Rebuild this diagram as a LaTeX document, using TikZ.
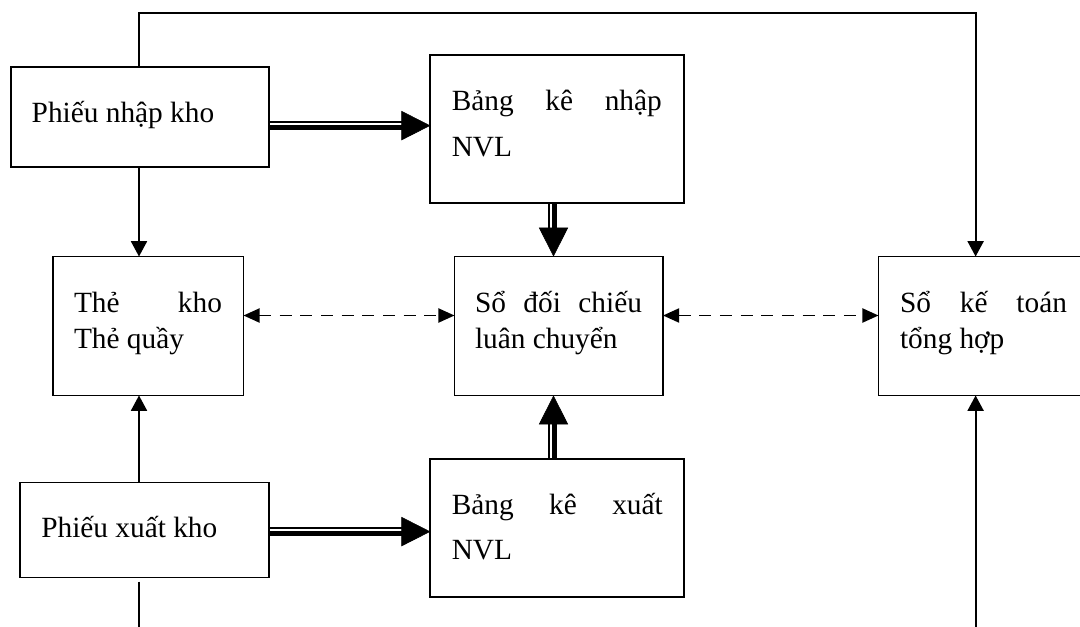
\documentclass[tikz,border=0pt]{standalone}
\usepackage{fontspec}
\setmainfont{Liberation Serif}
\usetikzlibrary{arrows.meta,backgrounds}
\begin{document}
\begin{tikzpicture}[x=0.75pt,y=-0.75pt,
  box/.style={draw, line width=1.4pt, inner sep=0pt, outer sep=0pt, fill=white},
  txt/.style={anchor=base west, inner sep=0pt, outer sep=0pt, font=\fontsize{22}{26}\selectfont},
  arr/.style={line width=1.35pt, -{Triangle[length=11.5pt,width=12pt]}},
  ln/.style={line width=1.35pt},
  dsh/.style={line width=1.4pt, dash pattern=on 9pt off 6.5pt, {Triangle[length=12pt,width=10.5pt]}-{Triangle[length=12pt,width=10.5pt]}},
  dblbody/.style={line width=6.9pt, shorten >=20pt},
  dblgap/.style={draw=white, line width=1.3pt, shorten >=20pt},
  dbltip/.style={line width=0.4pt, -{Triangle[length=21.75pt,width=22pt]}}
]
\useasboundingbox (0,0) rectangle (1080,627);
% boxes
\node[box, minimum width=193.2pt, minimum height=74.8pt] (A) at (139.8,116.9) {};
\node[box, minimum width=190.2pt, minimum height=111pt] (B) at (557.2,129) {};
\node[box, minimum width=143.1pt, minimum height=104.2pt] (C) at (148.1,326) {};
\node[box, minimum width=156.4pt, minimum height=104.2pt] (D) at (558.75,326) {};
\node[box, minimum width=156.4pt, minimum height=104.2pt] (E) at (982.75,326) {};
\node[box, minimum width=186.5pt, minimum height=71.25pt] (F) at (144.3,530) {};
\node[box, minimum width=190.2pt, minimum height=103.5pt] (G) at (557.2,528) {};
% texts
\node[txt] (At) at (31.7,122.9) {Phiếu nhập kho};
\node[txt] (Bt1) at (451.8,111) {\makebox[157.5pt][l]{Bảng\hfill kê\hfill nhập}};
\node[txt] (Bt2) at (451.8,156.7) {NVL};
\node[txt] (Ct1) at (74,312.7) {\makebox[111pt][l]{Thẻ\hfill kho}};
\node[txt] (Ct2) at (74,348) {Thẻ quầy};
\node[txt] (Dt1) at (475,312.7) {\makebox[125.25pt][l]{Sổ\hfill đối\hfill chiếu}};
\node[txt] (Dt2) at (475,348) {luân chuyển};
\node[txt] (Et1) at (900,312.7) {\makebox[125.25pt][l]{Sổ\hfill kế\hfill toán}};
\node[txt] (Et2) at (900,348) {tổng hợp};
\node[txt] (Ft) at (41.3,537.6) {Phiếu xuất kho};
\node[txt] (Gt1) at (451.8,514) {\makebox[158.25pt][l]{Bảng\hfill kê\hfill xuất}};
\node[txt] (Gt2) at (451.8,559) {NVL};
% helper coordinates
\coordinate (xL) at (139,0);
\coordinate (xR) at (975.6,0);
\coordinate (tl) at (139,12.7);
\coordinate (tr) at (975.6,12.7);
\coordinate (yD) at (0,315.5);
\coordinate (yAB) at (0,125.4);
\coordinate (yABg) at (0,123.7);
\coordinate (yABt) at (0,125.6);
\coordinate (yFG) at (0,531.75);
\coordinate (yFGg) at (0,530.05);
\coordinate (yFGt) at (0,531.6);
\coordinate (xBD) at (552.8,0);
\coordinate (xBDg) at (551.1,0);
\coordinate (xBDt) at (553.5,0);
\coordinate (xGD) at (552.4,0);
\coordinate (xGDg) at (550.7,0);
\coordinate (xGDt) at (553.5,0);
\coordinate (bl1) at (139,581.7);
\coordinate (bl2) at (139,627);
\coordinate (br) at (975.6,627);
\begin{scope}[on background layer]
  % thin arrows
  \draw[arr] (A.south -| xL) -- (C.north -| xL);
  \draw[arr] (F.north -| xL) -- (C.south -| xL);
  \draw[arr] (A.north -| xL) -- (tl) -- (tr) -- (E.north -| xR);
  \draw[ln] (bl1) -- (bl2);
  \draw[arr] (br) -- (E.south -| xR);
  % dashed
  \draw[dsh] (C.east |- yD) -- (D.west |- yD);
  \draw[dsh] (D.east |- yD) -- (E.west |- yD);
  % double arrows
  \draw[dblbody] (A.east |- yAB) -- (B.west |- yAB);
  \draw[dblgap] (A.east |- yABg) -- (B.west |- yABg);
  \draw[dbltip] (A.east |- yABt) -- (B.west |- yABt);
  \draw[dblbody] (F.east |- yFG) -- (G.west |- yFG);
  \draw[dblgap] (F.east |- yFGg) -- (G.west |- yFGg);
  \draw[dbltip] (F.east |- yFGt) -- (G.west |- yFGt);
  \draw[dblbody] (B.south -| xBD) -- (D.north -| xBD);
  \draw[dblgap] (B.south -| xBDg) -- (D.north -| xBDg);
  \draw[dbltip] (B.south -| xBDt) -- (D.north -| xBDt);
  \draw[dblbody] (G.north -| xGD) -- (D.south -| xGD);
  \draw[dblgap] (G.north -| xGDg) -- (D.south -| xGDg);
  \draw[dbltip] (G.north -| xGDt) -- (D.south -| xGDt);
\end{scope}
\end{tikzpicture}
\end{document}
